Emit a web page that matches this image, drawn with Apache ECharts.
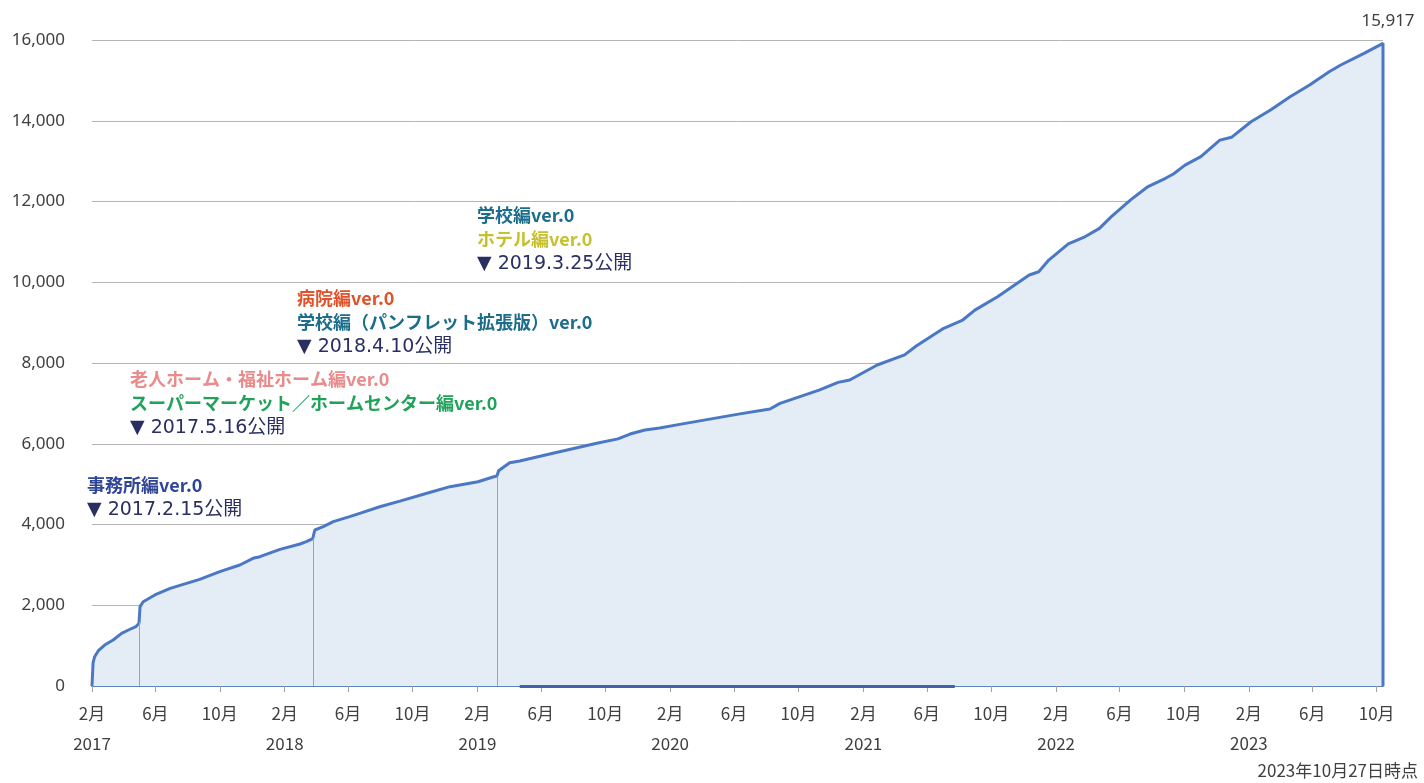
<!DOCTYPE html>
<html>
<head>
<meta charset="utf-8">
<script src="https://cdn.jsdelivr.net/npm/echarts@6/dist/echarts.min.js"></script>
<style>
html,body{margin:0;padding:0;background:#fff;}
#chart{width:1424px;height:783px;}
</style>
</head>
<body>
<div id="chart"></div>
<script>
// ---- data ----
const startDate = '2017-02-15';
const endDate = '2023-10-27';
const finalValue = 15917;

const dates = [
  '2017-02-15','2017-02-17','2017-02-20','2017-02-27','2017-03-11','2017-03-27','2017-04-12','2017-04-25','2017-05-09','2017-05-15',
  '2017-05-16','2017-05-17','2017-05-23','2017-06-14','2017-07-13','2017-08-13','2017-09-07','2017-10-15','2017-11-22','2017-12-17',
  '2017-12-30','2018-02-06','2018-03-16','2018-03-28','2018-04-09','2018-04-10','2018-04-13','2018-04-29','2018-05-18','2018-06-18',
  '2018-07-07','2018-08-14','2018-09-21','2018-11-13','2018-12-25','2019-02-16','2019-03-18','2019-03-24','2019-03-25','2019-03-27',
  '2019-04-17','2019-05-06','2019-07-12','2019-09-29','2019-11-08','2019-12-01','2019-12-29','2020-01-26','2020-03-04','2020-04-30',
  '2020-06-26','2020-08-22','2020-09-10','2020-11-23','2020-12-29','2021-01-20','2021-03-13','2021-05-04','2021-05-26','2021-07-17',
  '2021-08-22','2021-09-14','2021-10-27','2021-12-26','2022-01-13','2022-02-01','2022-03-10','2022-04-08','2022-05-08','2022-05-30',
  '2022-07-06','2022-08-08','2022-09-10','2022-09-25','2022-10-17','2022-11-16','2022-12-22','2023-01-13','2023-02-19','2023-03-28',
  '2023-05-04','2023-06-10','2023-07-17','2023-08-08','2023-09-21','2023-10-27'
];
const counts = [
  0,570,726,874,1015,1139,1304,1387,1469,1552,
  1560,1965,2088,2254,2419,2543,2642,2831,2997,3163,
  3203,3385,3517,3575,3650,3665,3864,3946,4070,4194,
  4277,4440,4580,4780,4937,5060,5184,5200,5210,5330,
  5531,5573,5778,6011,6120,6240,6340,6390,6480,6610,
  6740,6860,7000,7330,7520,7580,7950,8200,8420,8860,
  9065,9310,9640,10180,10260,10550,10950,11110,11335,11620,
  12040,12370,12575,12680,12900,13110,13520,13590,13975,14265,
  14595,14885,15215,15380,15670,15917
];

const tickDates = [
  '2017-02-15','2017-06-15','2017-10-15','2018-02-15','2018-06-15','2018-10-15',
  '2019-02-15','2019-06-15','2019-10-15','2020-02-15','2020-06-15','2020-10-15',
  '2021-02-15','2021-06-15','2021-10-15','2022-02-15','2022-06-15','2022-10-15',
  '2023-02-15','2023-06-15','2023-10-15'
];
const yTicks = [0,2000,4000,6000,8000,10000,12000,14000,16000];

const releaseDates = ['2017-05-16','2018-04-10','2019-03-25'];
const releaseLevels = [1580, 3660, 5200];
const baseBarRange = ['2019-05-06','2021-08-07'];

const noteLines = [
  ['事務所編ver.0','▼ 2017.2.15公開'],
  ['老人ホーム・福祉ホーム編ver.0','スーパーマーケット／ホームセンター編ver.0','▼ 2017.5.16公開'],
  ['病院編ver.0','学校編（パンフレット拡張版）ver.0','▼ 2018.4.10公開'],
  ['学校編ver.0','ホテル編ver.0','▼ 2019.3.25公開']
];
const noteColors = [
  ['#2f4596','#2a2f62'],
  ['#ea8a8a','#20a25a','#2a2f62'],
  ['#e2522a','#1b6d8a','#2a2f62'],
  ['#1b6d8a','#c6c02c','#2a2f62']
];
const footNote = '2023年10月27日時点';

// ---- build: x is days since startDate ----
const DAY = 86400000;
function utc(s){ const p = s.split('-').map(Number); return Date.UTC(p[0], p[1]-1, p[2]); }
const t0 = utc(startDate);
function dx(s){ return Math.round((utc(s) - t0) / DAY); }
function dayToDate(v){ return new Date(t0 + v * DAY); }

const seriesData = dates.map((d,i) => [dx(d), counts[i]]);
seriesData.push([dx(endDate), 0]);

const notePos = [[87,488],[130,382],[297,301],[477,218]];
const graphics = [];
noteLines.forEach((lines, gi) => {
  lines.forEach((t, li) => {
    const isDate = t.startsWith('▼');
    graphics.push({
      type:'text', left: notePos[gi][0], top: notePos[gi][1] + li*24.5 - 12,
      style:{ text: t, fill: noteColors[gi][li],
        font: isDate ? 'normal 19px "DejaVu Sans", "Noto Sans CJK JP"'
                     : 'bold 18px "Noto Sans CJK JP"' }
    });
  });
});
graphics.push({type:'text', right: 6, top: 762,
  style:{text: footNote, fill:'#404040', font:'normal 17px "Noto Sans CJK JP"'}});

const markLineData = releaseDates.map((d,i) => [
  {coord:[dx(d), 0]}, {coord:[dx(d), releaseLevels[i]]}
]);

const tickVals = tickDates.map(dx);

const chart = echarts.init(document.getElementById('chart'));
chart.setOption({
  animation:false,
  backgroundColor:'#ffffff',
  grid:{left:92, right:41, top:40, bottom:97, containLabel:false},
  xAxis:{
    type:'value',
    min: 0, max: dx(endDate),
    splitLine:{show:false},
    axisLine:{show:true, lineStyle:{color:'#5a84c6', width:2}},
    axisTick:{show:true, customValues: tickVals, length:6, lineStyle:{color:'#a0a0a0', width:1}},
    axisLabel:{
      customValues: tickVals,
      margin:13, lineHeight:30, fontSize:17, color:'#404040', fontFamily:'Noto Sans CJK JP',
      formatter: v => { const d = dayToDate(v); const m = d.getUTCMonth()+1;
        return m === 2 ? (m + '月\n' + d.getUTCFullYear()) : (m + '月'); }
    }
  },
  yAxis:{
    type:'value', min:yTicks[0], max:yTicks[yTicks.length-1], interval:2000,
    axisLine:{show:false}, axisTick:{show:false},
    splitLine:{show:true, lineStyle:{color:'#b4b4b4', width:1}},
    axisLabel:{margin:27, fontSize:17, color:'#404040', fontFamily:'Noto Sans',
      formatter: v => v.toLocaleString('en-US')}
  },
  series:[{
    type:'line',
    data: seriesData,
    showSymbol:false, symbol:'none',
    lineStyle:{color:'#4a78c4', width:3},
    areaStyle:{color:'#e4ecf6', opacity:1},
    z:3,
    markLine:{
      silent:true, symbol:'none', label:{show:false},
      lineStyle:{color:'#86a6dc', width:1, type:'solid'},
      data: markLineData.concat([[
        {coord:[dx(baseBarRange[0]), 0], lineStyle:{color:'#3f64a8', width:3}},
        {coord:[dx(baseBarRange[1]), 0]}
      ]])
    },
    markPoint:{
      silent:true, symbol:'circle', symbolSize:0,
      label:{show:true, position:'top', distance:0, offset:[5,-14],
        fontSize:17, color:'#404040', fontFamily:'Noto Sans',
        formatter: p => p.value.toLocaleString('en-US')},
      data:[{coord:[dx(endDate), finalValue], value: finalValue}]
    }
  }],
  graphic: graphics
});
</script>
</body>
</html>
